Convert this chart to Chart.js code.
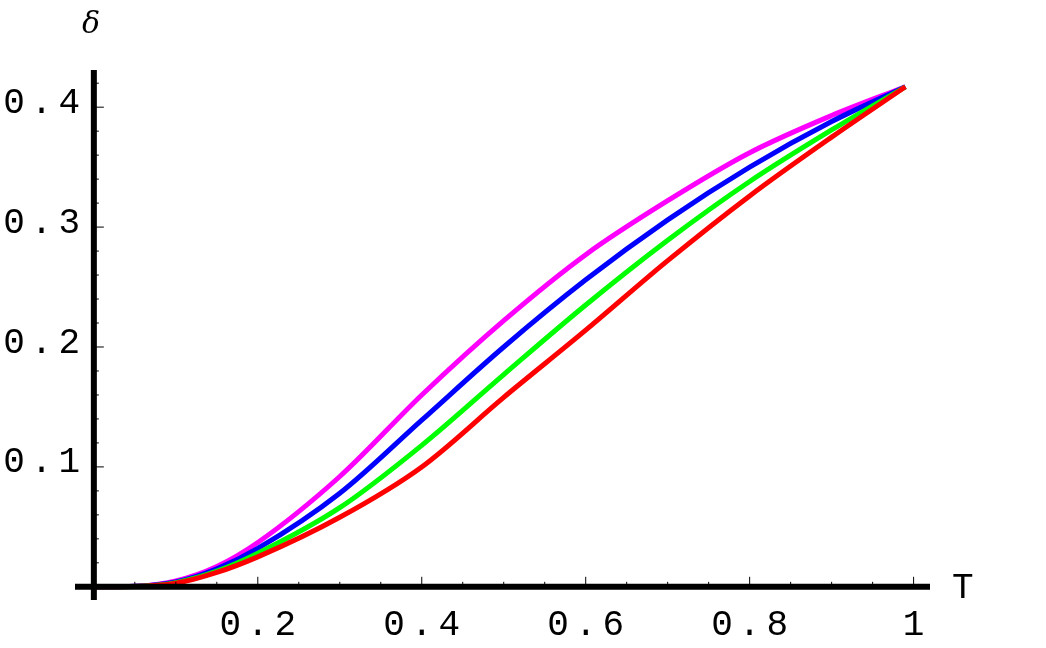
<!DOCTYPE html>
<html>
<head>
<meta charset="UTF-8">
<script src="https://cdn.jsdelivr.net/npm/chart.js"></script>
<style>body{margin:0;background:#fff}</style>
</head>
<body>
<div style="width:1046px;height:648px"><canvas id="c"></canvas></div>
<script>
const tVals = [0, 0.05, 0.1, 0.15, 0.2, 0.3, 0.4, 0.5, 0.6, 0.7, 0.8, 0.9, 0.99];
const magenta = [0, 0.0005, 0.005, 0.017, 0.037, 0.092, 0.16, 0.222, 0.277, 0.322, 0.362, 0.393, 0.417];
const blue    = [0, 0.0004, 0.004, 0.015, 0.032, 0.078, 0.139, 0.2, 0.256, 0.306, 0.350, 0.388, 0.417];
const green   = [0, 0.0003, 0.0035, 0.013, 0.028, 0.066, 0.118, 0.177, 0.235, 0.289, 0.338, 0.381, 0.417];
const red     = [0, 0.0003, 0.003, 0.012, 0.025, 0.058, 0.1, 0.158, 0.214, 0.272, 0.326, 0.375, 0.417];
const xTicks = [0.2, 0.4, 0.6, 0.8, 1];
const yTicks = [0.1, 0.2, 0.3, 0.4];

function pts(arr) { return tVals.map((t, i) => ({x: t, y: arr[i]})); }
function ds(arr, color) {
  return {data: pts(arr), borderColor: color, borderWidth: 5, pointRadius: 0, cubicInterpolationMode: 'monotone'};
}

const axesPlugin = {
  id: 'axes',
  afterDraw(chart) {
    const ctx = chart.ctx, xs = chart.scales.x, ys = chart.scales.y, a = chart.chartArea;
    const x0 = xs.getPixelForValue(0), y0 = ys.getPixelForValue(0);
    ctx.save();
    ctx.strokeStyle = '#000';
    ctx.lineWidth = 6;
    ctx.beginPath();
    ctx.moveTo(a.left, y0); ctx.lineTo(a.right, y0);
    ctx.moveTo(x0, a.top); ctx.lineTo(x0, a.bottom);
    ctx.stroke();
    ctx.lineWidth = 1;
    ctx.beginPath();
    for (let v = 0.05; v < 1.01; v += 0.05) {
      const px = xs.getPixelForValue(v);
      const big = Math.abs(v * 5 - Math.round(v * 5)) < 1e-6;
      ctx.moveTo(px, y0); ctx.lineTo(px, y0 - (big ? 10 : 5));
    }
    for (let v = 0.02; v < 0.43; v += 0.02) {
      const py = ys.getPixelForValue(v);
      const big = Math.abs(v * 10 - Math.round(v * 10)) < 1e-6;
      ctx.moveTo(x0, py); ctx.lineTo(x0 + (big ? 10 : 5), py);
    }
    ctx.stroke();
    ctx.fillStyle = '#000';
    ctx.font = '36px "Liberation Mono"';
    ctx.letterSpacing = '6px';
    ctx.textAlign = 'center';
    ctx.textBaseline = 'middle';
    xTicks.forEach(v => ctx.fillText(String(v), xs.getPixelForValue(v) + 3, 625));
    ctx.textAlign = 'right';
    yTicks.forEach(v => ctx.fillText(String(v), 86, ys.getPixelForValue(v) - 4));
    ctx.textAlign = 'left';
    ctx.fillText('T', 952, 588);
    ctx.letterSpacing = '0px';
    ctx.font = 'italic 30px "DejaVu Serif"';
    ctx.fillText('δ', 82, 25);
    ctx.restore();
  }
};

new Chart(document.getElementById('c'), {
  type: 'line',
  data: {datasets: [ds(red, '#ff0000'), ds(green, '#00ff00'), ds(blue, '#0000ff'), ds(magenta, '#ff00ff')]},
  options: {
    responsive: true, maintainAspectRatio: false, animation: false,
    layout: {padding: {left: 75, right: 116, top: 70, bottom: 48}},
    plugins: {legend: {display: false}, tooltip: {enabled: false}},
    scales: {
      x: {type: 'linear', display: false, min: -0.023, max: 1.02},
      y: {display: false, min: -0.011, max: 0.431}
    }
  },
  plugins: [axesPlugin]
});
</script>
</body>
</html>
